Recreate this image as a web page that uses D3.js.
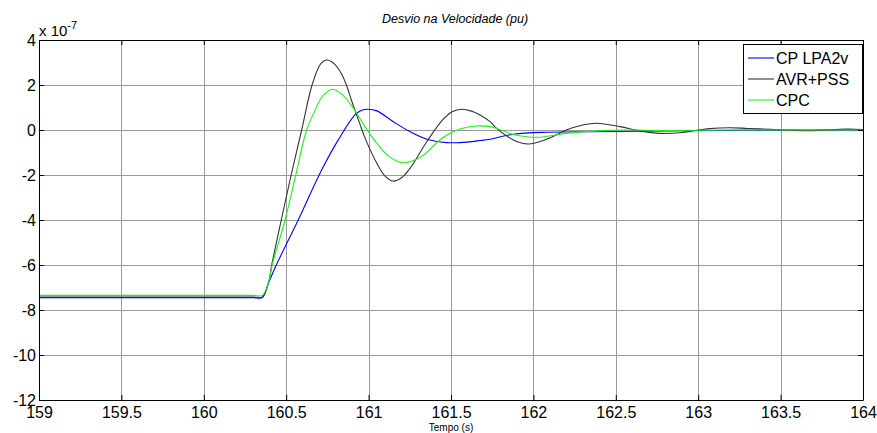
<!DOCTYPE html>
<html>
<head>
<meta charset="utf-8">
<script src="https://cdn.jsdelivr.net/npm/d3@7"></script>
<style>
  body { margin: 0; background: #fff; }
  text { font-family: "Liberation Sans", Arial, sans-serif; }
</style>
</head>
<body>
<div id="chart"></div>
<script>
// tick values
var xTicks = [159, 159.5, 160, 160.5, 161, 161.5, 162, 162.5, 163, 163.5, 164];
var yTicks = [-12, -10, -8, -6, -4, -2, 0, 2, 4];

// series: CP LPA2v (blue)
var tBlue = [159, 159.5, 160, 160.3, 160.355, 160.392, 160.44, 160.573, 160.715, 160.816, 160.917, 160.955, 160.998, 161.05,
             161.15, 161.25, 161.353, 161.474, 161.555, 161.676, 161.737, 161.878, 162.08, 162.485, 162.95, 163.5, 164];
var vBlue = [-7.45, -7.45, -7.45, -7.45, -7.45, -6.81, -6.0, -4.0, -1.78, -0.44, 0.67, 0.87, 0.92, 0.85,
             0.37, -0.07, -0.41, -0.56, -0.56, -0.47, -0.41, -0.19, -0.1, -0.07, -0.03, 0, 0];

// series: AVR+PSS (dark grey)
var tBlack = [159, 159.5, 160, 160.3, 160.355, 160.392, 160.412, 160.47, 160.53, 160.594, 160.657, 160.71, 160.746, 160.79,
              160.837, 160.87, 160.897, 160.948, 160.978, 161.05, 161.1, 161.15, 161.2, 161.25, 161.353, 161.453,
              161.51, 161.565, 161.62, 161.676, 161.737, 161.777, 161.878, 161.969, 162.08, 162.2, 162.3,
              162.384, 162.525, 162.647, 162.768, 162.89, 162.95, 163.07, 163.19, 163.3, 163.44, 163.56,
              163.68, 163.9, 164];
var vBlack = [-7.42, -7.42, -7.42, -7.42, -7.42, -6.81, -6.0, -4.0, -2.0, 0, 2.0, 2.95, 3.11, 2.95,
              2.48, 1.9, 1.3, 0.25, -0.35, -1.48, -2.05, -2.27, -2.12, -1.72, -0.52, 0.48,
              0.82, 0.92, 0.85, 0.67, 0.37, 0.07, -0.44, -0.62, -0.41, 0, 0.22,
              0.3, 0.15, -0.04, -0.15, -0.12, -0.06, 0.06, 0.1, 0.07, 0.03, -0.01,
              -0.03, 0.04, 0.02];

// series: CPC (green)
var tGreen = [159, 159.5, 160, 160.3, 160.355, 160.392, 160.415, 160.493, 160.558, 160.624, 160.68, 160.72, 160.78, 160.84,
              160.9, 160.948, 160.978, 161.05, 161.12, 161.2, 161.312, 161.453, 161.555, 161.656, 161.737,
              161.777, 161.878, 161.96, 162.04, 162.2, 162.384, 162.58, 162.8, 163.2, 164];
var vGreen = [-7.35, -7.35, -7.35, -7.35, -7.35, -6.81, -6.0, -4.0, -2.0, 0, 0.95, 1.5, 1.81, 1.57,
              1.05, 0.5, 0.15, -0.59, -1.15, -1.45, -1.22, -0.32, 0.04, 0.18, 0.15,
              0.07, -0.2, -0.3, -0.32, -0.15, -0.04, 0.0, -0.02, 0, 0];

var seriesNames = ["CP LPA2v", "AVR+PSS", "CPC"];
var seriesColors = ["#0000ff", "#333333", "#1ef01e"];

function init(){
    var W = 877, H = 433;
    var left = 39, top = 40;
    var w = 824, h = 360;

    var svg = d3.select("#chart")
                .append("svg")
                .attr("width", W)
                .attr("height", H);

    var xScale = d3.scaleLinear().domain([159, 164]).range([0, w]);
    var yScale = d3.scaleLinear().domain([-12, 4]).range([h, 0]);

    var g = svg.append("g").attr("transform", "translate(" + left + "," + top + ")");

    // grid
    g.selectAll(".gx").data(xTicks).enter().append("line")
        .attr("x1", function(d) { return Math.round(xScale(d)) + 0.5; })
        .attr("x2", function(d) { return Math.round(xScale(d)) + 0.5; })
        .attr("y1", 0).attr("y2", h)
        .attr("stroke", "#9a9a9a").attr("stroke-width", 1);
    g.selectAll(".gy").data(yTicks).enter().append("line")
        .attr("x1", 0).attr("x2", w)
        .attr("y1", function(d) { return Math.round(yScale(d)) + 0.5; })
        .attr("y2", function(d) { return Math.round(yScale(d)) + 0.5; })
        .attr("stroke", "#9a9a9a").attr("stroke-width", 1);

    // data lines
    var line = d3.line()
        .x(function(d) { return xScale(d[0]); })
        .y(function(d) { return yScale(d[1]); })
        .curve(d3.curveCatmullRom.alpha(0.5));

    var series = [
        d3.zip(tBlue, vBlue),
        d3.zip(tBlack, vBlack),
        d3.zip(tGreen, vGreen)
    ];
    series.forEach(function(s, i) {
        g.append("path")
            .datum(s)
            .attr("d", line)
            .attr("fill", "none")
            .attr("stroke", seriesColors[i])
            .attr("stroke-width", 1.1);
    });

    var fmt = function(d) { return String(d); };

    // axes (ticks point inward)
    var bottom = g.append("g").attr("transform", "translate(0," + h + ")")
        .call(d3.axisBottom(xScale).tickValues(xTicks).tickSize(-5).tickSizeOuter(0).tickPadding(7).tickFormat(fmt));
    var topAx = g.append("g")
        .call(d3.axisTop(xScale).tickValues(xTicks).tickSize(-5).tickSizeOuter(0).tickFormat(""));
    var leftAx = g.append("g")
        .call(d3.axisLeft(yScale).tickValues(yTicks).tickSize(-5).tickSizeOuter(0).tickPadding(3).tickFormat(fmt));
    var rightAx = g.append("g").attr("transform", "translate(" + w + ",0)")
        .call(d3.axisRight(yScale).tickValues(yTicks).tickSize(-5).tickSizeOuter(0).tickFormat(""));

    [bottom, topAx, leftAx, rightAx].forEach(function(a) {
        a.select(".domain").attr("stroke", "#000");
        a.selectAll(".tick line").attr("stroke", "#000");
        a.selectAll("text")
            .attr("font-family", "Liberation Sans, Arial, sans-serif")
            .attr("font-size", "16px")
            .attr("fill", "#000");
    });

    // exponent label
    var expo = svg.append("text")
        .attr("x", left)
        .attr("y", 36)
        .attr("font-size", "15px")
        .attr("fill", "#000");
    expo.append("tspan").text("x 10");
    expo.append("tspan").attr("dy", -7).attr("font-size", "11px").text("-7");

    // title
    svg.append("text")
        .attr("x", left + w / 2 + 4)
        .attr("y", 23)
        .attr("text-anchor", "middle")
        .attr("font-size", "12.5px")
        .attr("font-style", "italic")
        .attr("fill", "#000")
        .text("Desvio na Velocidade (pu)");

    // x label
    svg.append("text")
        .attr("x", left + w / 2)
        .attr("y", 431)
        .attr("text-anchor", "middle")
        .attr("font-size", "10px")
        .attr("fill", "#000")
        .text("Tempo (s)");

    // legend
    var lg = svg.append("g").attr("transform", "translate(743,44)");
    lg.append("rect")
        .attr("x", 0.5).attr("y", 0.5)
        .attr("width", 119).attr("height", 69)
        .attr("fill", "#fff")
        .attr("stroke", "#000");
    seriesNames.forEach(function(name, i) {
        var yy = 14 + i * 21;
        lg.append("line")
            .attr("x1", 5).attr("x2", 31)
            .attr("y1", yy).attr("y2", yy)
            .attr("stroke", seriesColors[i])
            .attr("stroke-width", 1.1);
        lg.append("text")
            .attr("x", 33)
            .attr("y", yy)
            .attr("dy", "0.36em")
            .attr("font-size", "16px")
            .attr("fill", "#000")
            .text(name);
    });
}
window.onload = init;
</script>
</body>
</html>
